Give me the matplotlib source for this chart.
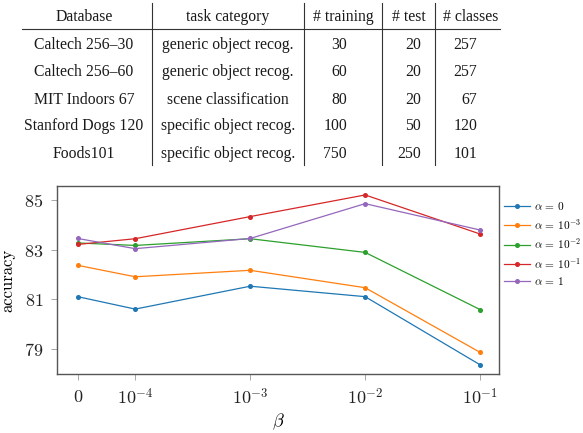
import matplotlib
matplotlib.use('Agg')
import matplotlib.pyplot as plt
from matplotlib.lines import Line2D

plt.rcParams['mathtext.fontset'] = 'cm'

# ---- table data ----
headers = ["Database", "task category", "# training", "# test", "# classes"]
databases = ["Caltech 256\u201330", "Caltech 256\u201360", "MIT Indoors 67",
             "Stanford Dogs 120", "Foods101"]
task_categories = ["generic object recog.", "generic object recog.",
                   "scene classification", "specific object recog.",
                   "specific object recog."]
n_training = [30, 60, 80, 100, 750]
n_test = [20, 20, 20, 50, 250]
n_classes = [257, 257, 67, 120, 101]

# ---- chart data ----
betas = [0, 1e-4, 1e-3, 1e-2, 1e-1]
beta_labels = [r'$0$', r'$10^{-4}$', r'$10^{-3}$', r'$10^{-2}$', r'$10^{-1}$']
alpha_labels = [r'$\alpha\,=\,0$', r'$\alpha\,=\,10^{-3}$', r'$\alpha\,=\,10^{-2}$',
                r'$\alpha\,=\,10^{-1}$', r'$\alpha\,=\,1$']
acc_alpha_0 = [81.11, 80.61, 81.53, 81.11, 78.37]
acc_alpha_1e3 = [82.37, 81.91, 82.17, 81.47, 78.87]
acc_alpha_1e2 = [83.27, 83.17, 83.44, 82.89, 80.59]
acc_alpha_1e1 = [83.21, 83.44, 84.33, 85.20, 83.63]
acc_alpha_1 = [83.45, 83.04, 83.45, 84.85, 83.79]
series = [acc_alpha_0, acc_alpha_1e3, acc_alpha_1e2, acc_alpha_1e1, acc_alpha_1]
colors = ['#1f77b4', '#ff7f0e', '#2ca02c', '#d62728', '#9467bd']
yticks = [79, 81, 83, 85]

W, H = 583, 433
fig = plt.figure(figsize=(W / 100, H / 100), dpi=100)

# ---- table drawn in pixel coordinates ----
tab = fig.add_axes([0, 0, 1, 1])
tab.set_xlim(0, W)
tab.set_ylim(H, 0)
tab.axis('off')
tfont = dict(family='Liberation Serif', fontsize=11.3, color='#1a1a1a')
header_y = 21
row_y = [49, 76.5, 103.5, 130.5, 157.5]
col_centers = [84, 228, 343, 409, 471]
num_right = [347, 421, 477]
for h, cx in zip(headers, col_centers):
    tab.text(cx, header_y, h, ha='center', va='baseline', **tfont)
for i, y in enumerate(row_y):
    tab.text(col_centers[0], y, databases[i], ha='center', va='baseline', **tfont)
    tab.text(col_centers[1], y, task_categories[i], ha='center', va='baseline', **tfont)
    for vals, xr in zip([n_training, n_test, n_classes], num_right):
        tab.text(xr, y, str(vals[i]), ha='right', va='baseline', **tfont)
for xv in [152, 304, 382, 435]:
    tab.plot([xv, xv], [3, 165], color='#333333', lw=0.8)
tab.plot([22, 500], [29, 29], color='#333333', lw=0.8)

# ---- line chart ----
ax = fig.add_axes([57 / W, 1 - 374 / H, (499 - 57) / W, (374 - 186) / H])
ax.set_xscale('symlog', linthresh=1e-4, linscale=0.45)
for vals, c, lab in zip(series, colors, alpha_labels):
    ax.plot(betas, vals, color=c, lw=0.9, marker='o', markersize=2.6, label=lab)
ax.set_xlim(-3.6e-5, 0.146)
ax.set_ylim(78.0, 85.56)
ax.set_xticks(betas)
ax.set_xticklabels(beta_labels)
ax.xaxis.set_minor_locator(matplotlib.ticker.NullLocator())
ax.set_yticks(yticks)
ax.set_yticklabels([r'$%d$' % v for v in yticks])
ax.tick_params(axis='both', direction='out', length=4, width=0.6,
               color='#999999', labelsize=13, pad=6, labelcolor='#222222')
for sp in ax.spines.values():
    sp.set_color('#555555')
    sp.set_linewidth(1.0)
ax.set_ylabel('accuracy', family='cmr10', fontsize=12, labelpad=6)
ax.set_xlabel(r'$\beta$', fontsize=13, labelpad=2)

handles = [Line2D([], [], color=c, lw=0.9, marker='o', markersize=2.6) for c in colors]
fig.legend(handles, alpha_labels, loc='upper left',
           bbox_to_anchor=(504 / W, 1 - 200 / H), frameon=False, fontsize=8.2,
           handlelength=2.25, handletextpad=0.4, labelspacing=0.42,
           borderaxespad=0, borderpad=0)

fig.savefig('out.png', dpi=100)
